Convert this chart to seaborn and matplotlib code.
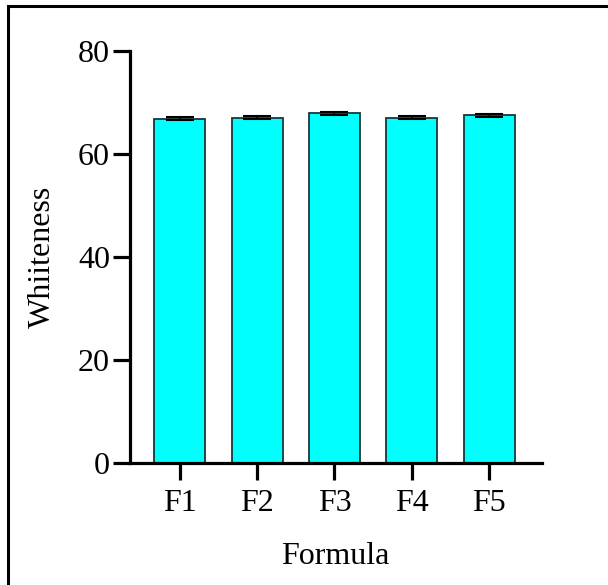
import matplotlib
matplotlib.use("Agg")
import matplotlib.pyplot as plt
import seaborn as sns
import pandas as pd
from matplotlib.patches import Rectangle

formulas = ["F1", "F2", "F3", "F4", "F5"]
whiteness = [66.8, 67.0, 67.9, 67.0, 67.5]
whiteness_sd = [0.3, 0.3, 0.3, 0.3, 0.3]

df = pd.DataFrame({"Formula": formulas, "Whiteness": whiteness})

sns.set_style("ticks")
plt.rcParams["font.family"] = ["Liberation Serif", "DejaVu Serif"]
plt.rcParams["text.color"] = "black"
plt.rcParams["axes.labelcolor"] = "black"
plt.rcParams["xtick.color"] = "black"
plt.rcParams["ytick.color"] = "black"
plt.rcParams["axes.edgecolor"] = "black"

fig = plt.figure(figsize=(6.08, 5.85), dpi=100)
ax = fig.add_axes([0.213, 0.2085, 0.678, 0.7045])

sns.barplot(data=df, x="Formula", y="Whiteness", color="#00FFFF",
            edgecolor="#183838", linewidth=1.3, width=0.66,
            saturation=1, errorbar=None, ax=ax)
ax.errorbar(range(len(formulas)), whiteness, yerr=whiteness_sd, fmt="none",
            ecolor="black", elinewidth=1.2, capsize=10, capthick=1.5, zorder=3)

ax.set_ylim(0, 80)
ax.set_yticks([0, 20, 40, 60, 80])
ax.set_xlim(-0.65, 4.68)
sns.despine(ax=ax)
for side in ["left", "bottom"]:
    ax.spines[side].set_linewidth(2.3)
ax.tick_params(axis="both", width=2.3, length=12, labelsize=23)
ax.tick_params(axis="x", pad=7)
ax.tick_params(axis="y", pad=2)

ax.set_xlabel("Formula", fontsize=23, labelpad=17)
ax.set_ylabel("Whiiteness", fontsize=23, labelpad=15)

fig.patches.append(Rectangle((7.5 / 608, -0.1), 1.2, (585 - 6.5) / 585 + 0.1,
                             transform=fig.transFigure, fill=False,
                             edgecolor="black", linewidth=2.2, zorder=10))

fig.savefig("out.png", dpi=100)
